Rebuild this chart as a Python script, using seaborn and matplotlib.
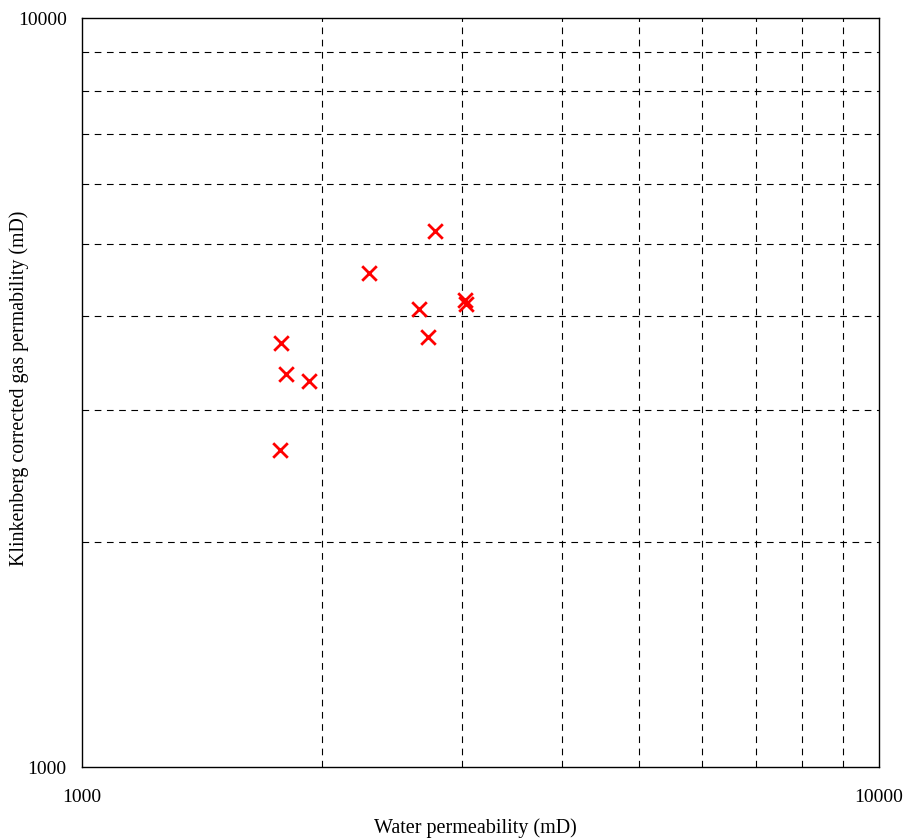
"""Klinkenberg corrected gas permeability vs water permeability (log-log)."""

import matplotlib
matplotlib.use('Agg')
import matplotlib.pyplot as plt
import seaborn as sns
import pandas as pd
from matplotlib.ticker import NullFormatter, FixedLocator, FixedFormatter

# values
water_perm = [2773, 2292, 2648, 3024, 3033, 2717, 1776, 1803, 1927, 1772]
gas_perm = [5195, 4565, 4088, 4203, 4152, 3751, 3682, 3347, 3277, 2650]
major_ticks = [1000, 10000]
grid_ticks = [2000, 3000, 4000, 5000, 6000, 7000, 8000, 9000]

df = pd.DataFrame({'water': water_perm, 'gas': gas_perm})

sns.set_style('white', {'text.color': 'black', 'axes.labelcolor': 'black',
                        'xtick.color': 'black', 'ytick.color': 'black'})
plt.rcParams['font.family'] = ['Liberation Serif', 'DejaVu Serif']

fig = plt.figure(figsize=(9.09, 8.39), dpi=100)
ax = fig.add_axes([0.0902, 0.0858, 0.967 - 0.0902, 0.9785 - 0.0858])

sns.scatterplot(data=df, x='water', y='gas', marker='x', color='red',
                s=110, linewidth=2, ax=ax, zorder=3)

ax.set_xscale('log')
ax.set_yscale('log')
ax.set_xlim(1000, 10000)
ax.set_ylim(1000, 10000)

# major ticks only labelled at the decade ends
ax.xaxis.set_major_locator(FixedLocator(major_ticks))
ax.yaxis.set_major_locator(FixedLocator(major_ticks))
ax.xaxis.set_major_formatter(FixedFormatter([str(t) for t in major_ticks]))
ax.yaxis.set_major_formatter(FixedFormatter([str(t) for t in major_ticks]))
ax.xaxis.set_minor_locator(FixedLocator(grid_ticks))
ax.yaxis.set_minor_locator(FixedLocator(grid_ticks))
ax.xaxis.set_minor_formatter(NullFormatter())
ax.yaxis.set_minor_formatter(NullFormatter())

ax.tick_params(which='major', direction='out', length=5, width=1, color='black',
               labelcolor='black', labelsize=14)
ax.tick_params(axis='x', which='major', pad=11)
ax.tick_params(axis='y', which='major', pad=6)
ax.tick_params(which='minor', length=0)

# dashed grid at the minor positions
ax.grid(which='minor', color='black', linestyle=(0, (6, 5)), linewidth=0.8)
ax.grid(which='major', visible=False)

for sp in ax.spines.values():
    sp.set_color('black')
    sp.set_linewidth(1)
    sp.set_visible(True)

ax.set_xlabel('Water permeability (mD)', fontsize=14.5, color='black')
ax.set_ylabel('Klinkenberg corrected gas permability (mD)', fontsize=14.3,
              color='black')
ax.xaxis.set_label_coords(0.493, -0.068)
ax.yaxis.set_label_coords(-0.067, 0.505)

fig.savefig('out.png', dpi=100)
